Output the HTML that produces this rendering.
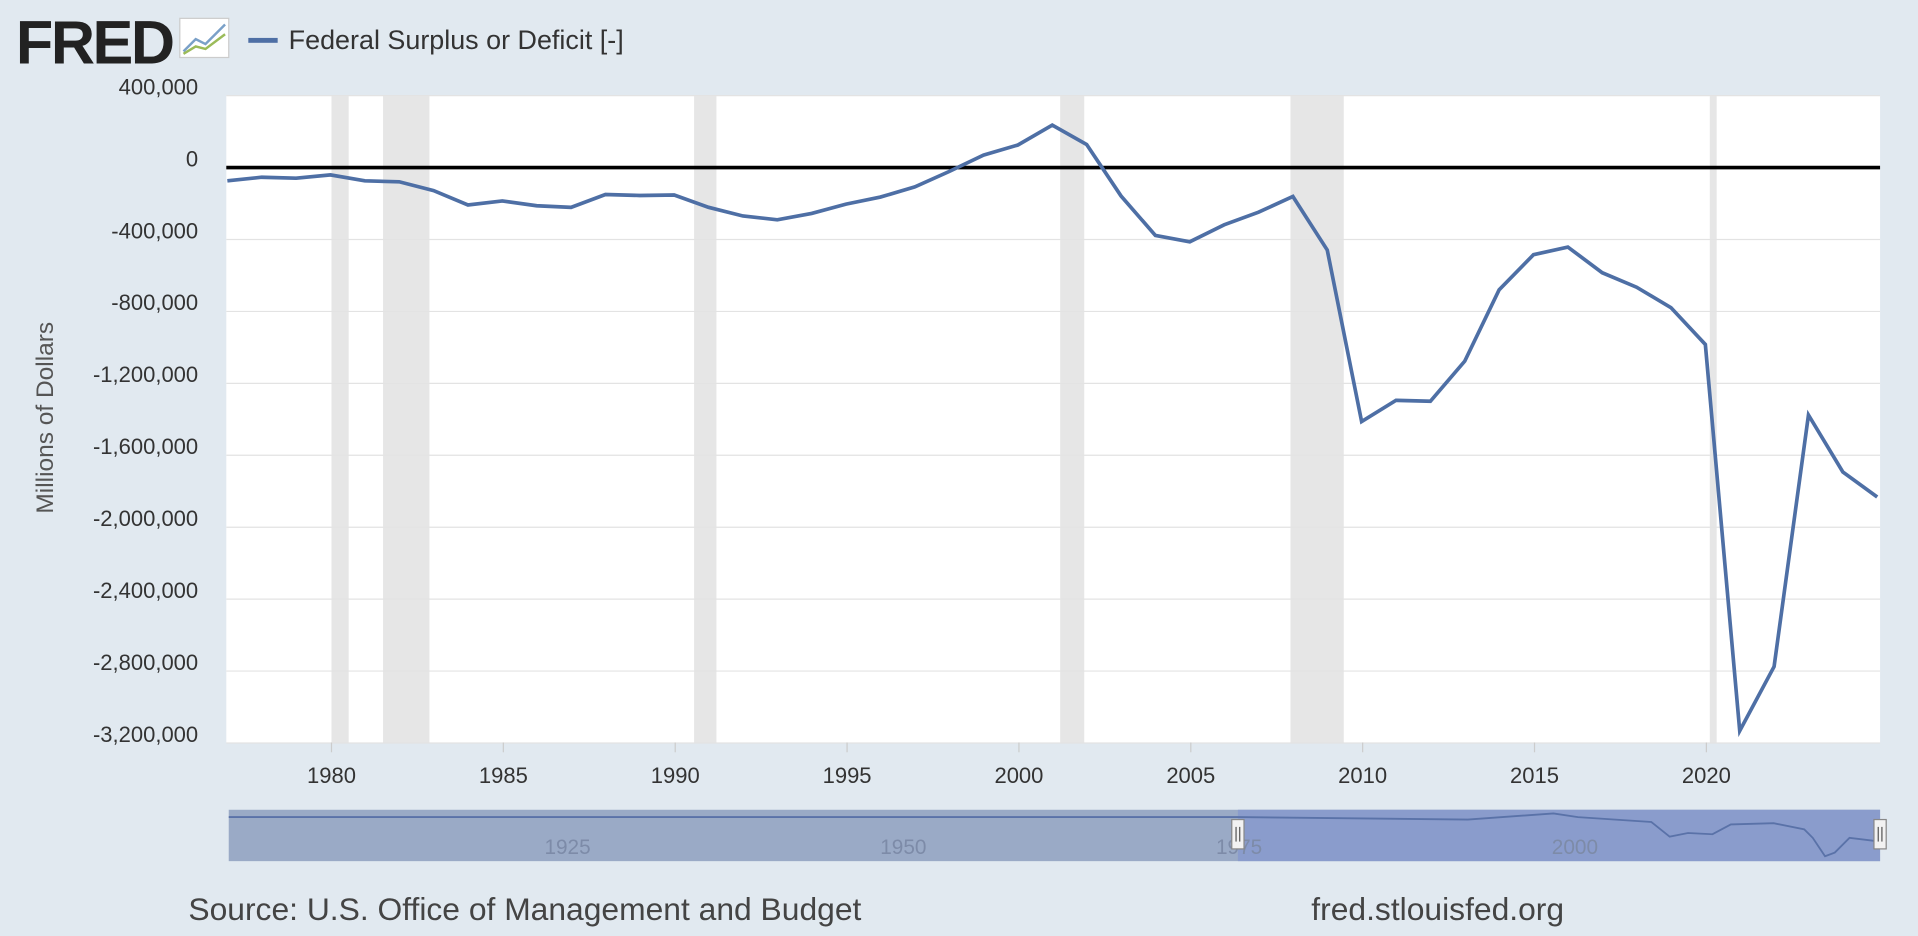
<!DOCTYPE html>
<html><head><meta charset="utf-8"><style>
body{margin:0;width:1918px;height:936px;background:#e1e9f0;font-family:"Liberation Sans",sans-serif;overflow:hidden;position:relative}
#wrap{position:absolute;left:0;top:0;width:1568px;height:765px;transform:scale(1.22321);transform-origin:0 0}
.t{position:absolute;white-space:nowrap}
</style></head><body>
<div id="wrap">
<div class="t" style="left:13px;top:6px;font-size:50px;font-weight:bold;color:#222;letter-spacing:-2px">FRED</div>
<svg style="position:absolute;left:146px;top:14px" width="42" height="34"><rect x="1" y="1" width="40" height="32" fill="#fff" stroke="#ccc"/><polyline points="4,28 14,18 22,22 38,6" fill="none" stroke="#7aa0c8" stroke-width="2"/><polyline points="4,30 14,24 22,26 38,14" fill="none" stroke="#9bbb59" stroke-width="2"/></svg>
<div style="position:absolute;left:203px;top:31px;width:24px;height:4px;background:#4e6fa5"></div>
<div class="t" style="left:236px;top:20px;font-size:22px;color:#333">Federal Surplus or Deficit [-]</div>
<div class="t" style="left:-62px;top:330px;font-size:20px;color:#555;transform:rotate(-90deg);width:200px;text-align:center">Millions of Dollars</div>
<svg id="ch" style="position:absolute;left:0;top:0" width="1568" height="765"></svg>
<div class="t" style="left:154px;top:728px;font-size:26px;color:#444">Source: U.S. Office of Management and Budget</div>
<div class="t" style="left:1072px;top:728px;font-size:26px;color:#444">fred.stlouisfed.org</div>
</div>
<script>
const years=[1976,1977,1978,1979,1980,1981,1982,1983,1984,1985,1986,1987,1988,1989,1990,1991,1992,1993,1994,1995,1996,1997,1998,1999,2000,2001,2002,2003,2004,2005,2006,2007,2008,2009,2010,2011,2012,2013,2014,2015,2016,2017,2018,2019,2020,2021,2022,2023,2024];
const values=[-73700,-53700,-59200,-40700,-73800,-79000,-128000,-207800,-185400,-212300,-221200,-149700,-155200,-152600,-221000,-269200,-290300,-255100,-203200,-164000,-107400,-21900,69300,125600,236200,128200,-157800,-377600,-412700,-318300,-248200,-160700,-458600,-1412700,-1294400,-1299600,-1076600,-679800,-484600,-441900,-584700,-665400,-779100,-983600,-3132500,-2775300,-1375900,-1693000,-1832000];
const yTicks=[400000,0,-400000,-800000,-1200000,-1600000,-2000000,-2400000,-2800000,-3200000];
const xTicks=[1980,1985,1990,1995,2000,2005,2010,2015,2020];
const recessions=[[1980.0,1980.5],[1981.5,1982.85],[1990.55,1991.2],[2001.2,2001.9],[2007.9,2009.45],[2020.1,2020.3]];
const navTicks=[1925,1950,1975,2000];
const L=185,R=1537,T=78,B=607;
const X=y=>271+(y-1980)*28.1;
const Y=v=>137-v/400000*58.8;
const s=document.getElementById('ch');const ns='http://www.w3.org/2000/svg';
function mk(t,a,p){const e=document.createElementNS(ns,t);for(const k in a)e.setAttribute(k,a[k]);(p||s).appendChild(e);return e;}
const bg=mk('rect',{x:L,y:T,width:R-L,height:B-T,fill:'#fff'});

recessions.forEach(r=>{const e=mk('rect',{x:X(r[0]),y:T,width:X(r[1])-X(r[0]),height:B-T,fill:'#e6e6e6'});
});
yTicks.forEach(v=>{const g=mk('line',{x1:L,x2:R,y1:Y(v),y2:Y(v),stroke:'#e3e3e3'});

const t=mk('text',{x:162,y:Y(v)-1,'text-anchor':'end','font-size':18,fill:'#333'});t.textContent=v.toLocaleString('en-US');
});
const z=mk('line',{x1:L,x2:R,y1:Y(0),y2:Y(0),stroke:'#000','stroke-width':3});

xTicks.forEach(y=>{const tk=mk('line',{x1:X(y),x2:X(y),y1:B,y2:B+8,stroke:'#ccc'});

const t=mk('text',{x:X(y),y:B+33,'text-anchor':'middle','font-size':18,fill:'#333'});t.textContent=y;
});
const cp=mk('clipPath',{id:'cp'});mk('rect',{x:L,y:T-5,width:R-L,height:B-T+10},cp);
const pts=years.map((y,i)=>X(y+0.97)+','+Y(values[i])).join(' ');
const ln=mk('polyline',{points:pts,fill:'none',stroke:'#4e6fa5','stroke-width':3,'clip-path':'url(#cp)'});

const nav=mk('rect',{x:187,y:662,width:1350,height:42,fill:'#9aaac6'});

const sel=mk('rect',{x:1012,y:662,width:525,height:42,fill:'#8a9ccc'});

const nl=mk('polyline',{points:'187,668 1012,668 1200,670 1270,665 1290,668 1350,672 1365,684 1380,681 1400,682 1415,674 1450,673 1475,678 1482,685 1492,700 1500,697 1512,685 1537,688',fill:'none',stroke:'#5a72a8','stroke-width':1.5});

navTicks.forEach((y,i)=>{const t=mk('text',{x:464+i*274.5,y:698,'text-anchor':'middle','font-size':17,fill:'#7d8ba8'});t.textContent=y;
});
[1012,1537].forEach(x=>{const h=mk('rect',{x:x-5,y:670,width:10,height:24,fill:'#f2f2f2',stroke:'#888'});

mk('line',{x1:x-1.5,x2:x-1.5,y1:676,y2:688,stroke:'#555'});mk('line',{x1:x+1.5,x2:x+1.5,y1:676,y2:688,stroke:'#555'});});
</script>
</body></html>
